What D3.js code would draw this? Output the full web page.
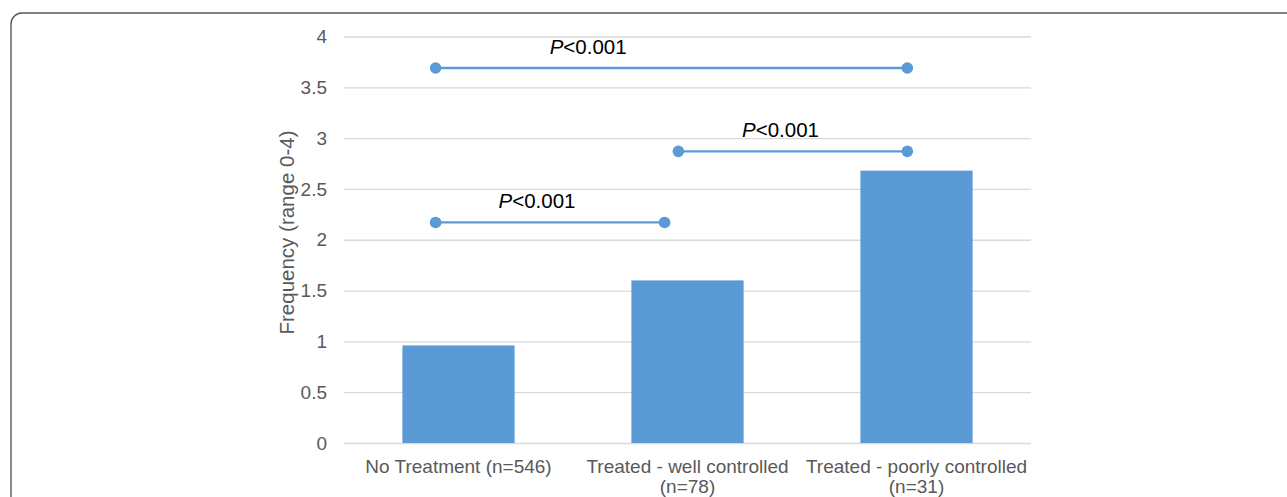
<!DOCTYPE html>
<html>
<head>
<meta charset="utf-8">
<script src="https://cdn.jsdelivr.net/npm/d3@7"></script>
<style>
  html, body { margin: 0; padding: 0; background: #fff; }
  svg { display: block; font-family: "Liberation Sans", Arial, sans-serif; }
</style>
</head>
<body>
<svg id="chart" width="1287" height="497"></svg>
<script>
// Mean frequency per treatment group
const categories = [
  ["No Treatment (n=546)"],
  ["Treated - well controlled", "(n=78)"],
  ["Treated - poorly controlled", "(n=31)"]
];
const values = [0.96, 1.6, 2.68];
const yTicks = [0, 0.5, 1, 1.5, 2, 2.5, 3, 3.5, 4];

// Significance brackets, positioned in category units (0..3 across the plot)
const bracketFrom  = [0.40, 1.46, 0.40];
const bracketTo    = [2.46, 2.46, 1.40];
const bracketLevel = [3.69, 2.87, 2.17];
const bracketLabelAt = [1.066, 1.906, 0.843];

const width = 1287, height = 497;
const margin = { left: 344, right: 256, top: 36.5, bottom: 54 };
const svg = d3.select("#chart");

// Card frame
svg.append("rect")
  .attr("x", 11).attr("y", 13)
  .attr("width", 1320).attr("height", 520)
  .attr("rx", 11).attr("ry", 11)
  .attr("fill", "none")
  .attr("stroke", "#5a5a5a")
  .attr("stroke-width", 1.4);

const x = d3.scaleBand()
  .domain(d3.range(categories.length))
  .range([margin.left, width - margin.right])
  .paddingInner(0.51)
  .paddingOuter(0.255);

const xc = d3.scaleLinear()
  .domain([0, categories.length])
  .range([margin.left, width - margin.right]);

const y = d3.scaleLinear()
  .domain([0, 4])
  .range([height - margin.bottom, margin.top]);

// Gridlines and y labels
const yAxis = svg.append("g")
  .attr("transform", `translate(${margin.left},0)`)
  .call(d3.axisLeft(y)
    .tickValues(yTicks)
    .tickSize(-(width - margin.left - margin.right))
    .tickPadding(17)
    .tickFormat(d3.format("")));
yAxis.select(".domain").remove();
yAxis.selectAll(".tick line").attr("stroke", "#d9d9d9").attr("stroke-width", 1.3);
yAxis.selectAll(".tick text")
  .attr("fill", "#595959")
  .style("font-size", "19px")
  .style("font-family", "'Liberation Sans', Arial, sans-serif");

// Y axis title
svg.append("text")
  .attr("transform", `translate(293.5,232.5) rotate(-90)`)
  .attr("text-anchor", "middle")
  .attr("fill", "#595959")
  .style("font-size", "20.5px")
  .text("Frequency (range 0-4)");

// Bars
svg.append("g").selectAll("rect")
  .data(values)
  .join("rect")
  .attr("x", (d, i) => x(i))
  .attr("width", x.bandwidth())
  .attr("y", d => y(d))
  .attr("height", d => y(0) - y(d))
  .attr("fill", "#5b9bd5");

// Category labels (wrapped)
const xl = svg.append("g");
categories.forEach((lines, i) => {
  const t = xl.append("text")
    .attr("x", x(i) + x.bandwidth() / 2)
    .attr("y", 473)
    .attr("text-anchor", "middle")
    .attr("fill", "#595959")
    .style("font-size", "19px");
  lines.forEach((ln, j) => {
    t.append("tspan")
      .attr("x", x(i) + x.bandwidth() / 2)
      .attr("dy", j === 0 ? 0 : 19.5)
      .text(ln);
  });
});

// Brackets
const bg = svg.append("g");
bracketLevel.forEach((lv, i) => {
  const g = bg.append("g");
  g.append("line")
    .attr("x1", xc(bracketFrom[i])).attr("x2", xc(bracketTo[i]))
    .attr("y1", y(lv)).attr("y2", y(lv))
    .attr("stroke", "#5b9bd5")
    .attr("stroke-width", 2.3);
  [bracketFrom[i], bracketTo[i]].forEach(p => {
    g.append("circle")
      .attr("cx", xc(p)).attr("cy", y(lv))
      .attr("r", 5.8)
      .attr("fill", "#5b9bd5");
  });
  const t = g.append("text")
    .attr("x", xc(bracketLabelAt[i]))
    .attr("y", y(lv) - 14)
    .attr("text-anchor", "middle")
    .attr("fill", "#000")
    .style("font-size", "20.5px");
  t.append("tspan").style("font-style", "italic").text("P");
  t.append("tspan").text("<0.001");
});
</script>
</body>
</html>
